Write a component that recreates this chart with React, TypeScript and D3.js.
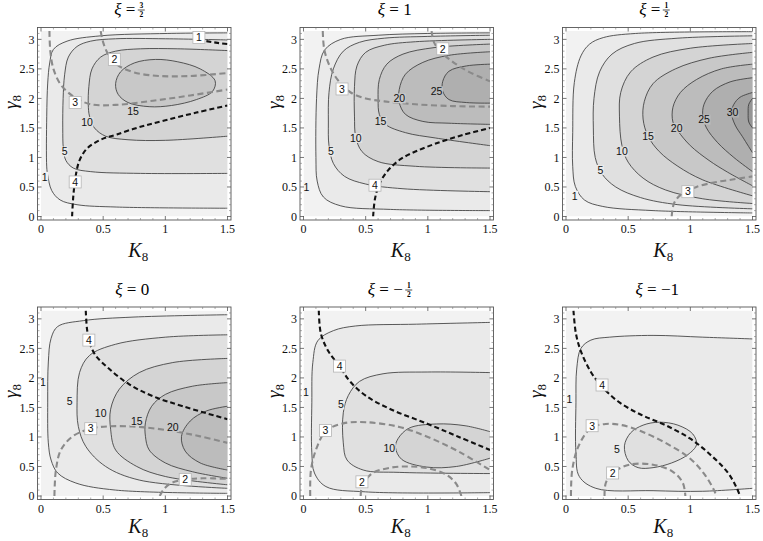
import React from "react";
import * as d3 from "d3";

type Pt = [number, number];
interface Contour { level: number; pts: Pt[]; closed?: boolean }
interface Dashed { tone: "gray" | "black"; label: string; at: Pt; pts: Pt[] }
interface CLabel { text: string; at: Pt }

// ---------- axes ----------
const xTicks = [0, 0.5, 1, 1.5];
const xTickLabels = ["0", "0.5", "1", "1.5"];
const yTicks = [0, 0.5, 1, 1.5, 2, 2.5, 3];
const yTickLabels = ["0", "0.5", "1", "1.5", "2", "2.5", "3"];
const xMinor = [0.1, 0.2, 0.3, 0.4, 0.6, 0.7, 0.8, 0.9, 1.1, 1.2, 1.3, 1.4];
const yMinor = [0.1, 0.2, 0.3, 0.4, 0.6, 0.7, 0.8, 0.9, 1.1, 1.2, 1.3, 1.4, 1.6, 1.7, 1.8, 1.9, 2.1, 2.2, 2.3, 2.4, 2.6, 2.7, 2.8, 2.9, 3.1];

// ---------- shading ----------
const shadeLevels = [1, 5, 10, 15, 20, 25, 30, 35];
const shadeColors = ["#eaeaea", "#e0e0e0", "#d4d4d4", "#c8c8c8", "#bcbcbc", "#afafaf", "#a2a2a2", "#959595"];
const baseShade = "#f2f2f2";

// ---------- titles ----------
const titles = [
  { neg: false, num: "3", den: "2", txt: "" },
  { neg: false, num: "", den: "", txt: "1" },
  { neg: false, num: "1", den: "2", txt: "" },
  { neg: false, num: "", den: "", txt: "0" },
  { neg: true, num: "1", den: "2", txt: "" },
  { neg: true, num: "", den: "", txt: "1" },
];

// ---------- panel 1 : xi = 3/2 ----------
const p1Contours: Contour[] = [
  { level: 1, pts: [[1.5, 3.11], [1.02, 3.1], [0.48, 3.06], [0.21, 2.97], [0.1, 2.83], [0.07, 2.6], [0.054, 2.26], [0.046, 1.69], [0.046, 0.84], [0.054, 0.7], [0.086, 0.44], [0.154, 0.28], [0.29, 0.2], [0.61, 0.16], [1.5, 0.14]] },
  { level: 5, pts: [[1.5, 2.99], [1.0, 3.01], [0.6, 3.01], [0.4, 2.97], [0.29, 2.88], [0.22, 2.7], [0.19, 2.4], [0.178, 2.0], [0.175, 1.5], [0.18, 1.15], [0.2, 0.95], [0.26, 0.82], [0.4, 0.76], [0.8, 0.73], [1.5, 0.73]] },
  { level: 10, pts: [[1.5, 2.81], [1.1, 2.84], [0.8, 2.84], [0.6, 2.8], [0.48, 2.7], [0.41, 2.5], [0.385, 2.2], [0.38, 1.9], [0.39, 1.7], [0.43, 1.5], [0.52, 1.36], [0.7, 1.3], [1.0, 1.29], [1.5, 1.36]] },
  { level: 15, closed: true, pts: [[0.6, 2.25], [0.64, 2.45], [0.75, 2.6], [0.92, 2.66], [1.1, 2.62], [1.28, 2.5], [1.4, 2.3], [1.38, 2.12], [1.25, 1.98], [1.05, 1.88], [0.87, 1.86], [0.7, 1.93], [0.62, 2.07]] },
];
const p1Dashed: Dashed[] = [
  { tone: "gray", label: "3", at: [0.275, 1.93], pts: [[0.068, 3.14], [0.075, 2.8], [0.1, 2.5], [0.16, 2.23], [0.27, 2.02], [0.4, 1.9], [0.6, 1.89], [0.9, 1.96], [1.2, 2.05], [1.5, 2.15]] },
  { tone: "gray", label: "2", at: [0.59, 2.66], pts: [[0.48, 3.14], [0.5, 2.95], [0.54, 2.75], [0.62, 2.56], [0.75, 2.44], [0.95, 2.38], [1.2, 2.38], [1.5, 2.43]] },
  { tone: "black", label: "4", at: [0.275, 0.585], pts: [[0.25, 0], [0.26, 0.35], [0.28, 0.7], [0.31, 0.95], [0.37, 1.15], [0.48, 1.3], [0.61, 1.39], [0.8, 1.52], [1.0, 1.63], [1.25, 1.76], [1.5, 1.88]] },
  { tone: "black", label: "1", at: [1.27, 3.03], pts: [[1.33, 2.97], [1.42, 2.94], [1.5, 2.92]] },
];
const p1Labels: CLabel[] = [
  { text: "1", at: [0.03, 0.67] }, { text: "5", at: [0.19, 1.1] }, { text: "10", at: [0.37, 1.6] }, { text: "15", at: [0.74, 1.78] },
];

// ---------- panel 2 : xi = 1 ----------
const p2Contours: Contour[] = [
  { level: 1, pts: [[1.5, 3.11], [1.0, 3.1], [0.6, 3.07], [0.3, 3.0], [0.17, 2.82], [0.125, 2.5], [0.105, 2.0], [0.1, 1.0], [0.11, 0.6], [0.16, 0.33], [0.3, 0.18], [0.7, 0.12], [1.5, 0.1]] },
  { level: 5, pts: [[1.5, 3.07], [1.0, 3.05], [0.65, 3.02], [0.45, 2.95], [0.32, 2.8], [0.24, 2.5], [0.205, 2.1], [0.2, 1.6], [0.205, 1.2], [0.24, 0.9], [0.33, 0.68], [0.5, 0.55], [0.8, 0.47], [1.5, 0.42]] },
  { level: 10, pts: [[1.5, 3.0], [0.9, 2.96], [0.65, 2.9], [0.5, 2.78], [0.43, 2.55], [0.41, 2.2], [0.41, 1.7], [0.42, 1.35], [0.47, 1.1], [0.6, 0.93], [0.9, 0.85], [1.5, 0.82]] },
  { level: 15, pts: [[1.5, 2.92], [1.05, 2.86], [0.8, 2.75], [0.67, 2.58], [0.61, 2.32], [0.6, 1.98], [0.61, 1.73], [0.66, 1.56], [0.82, 1.42], [1.06, 1.33], [1.5, 1.2]] },
  { level: 20, pts: [[1.5, 2.79], [1.17, 2.73], [0.96, 2.61], [0.82, 2.41], [0.77, 2.15], [0.77, 1.93], [0.82, 1.73], [0.96, 1.61], [1.17, 1.58], [1.5, 1.56]] },
  { level: 25, pts: [[1.5, 2.58], [1.31, 2.55], [1.17, 2.46], [1.12, 2.29], [1.12, 2.12], [1.17, 1.98], [1.31, 1.93], [1.5, 1.92]] },
];
const p2Dashed: Dashed[] = [
  { tone: "gray", label: "3", at: [0.31, 2.16], pts: [[0.155, 3.14], [0.167, 2.83], [0.21, 2.55], [0.28, 2.3], [0.38, 2.1], [0.5, 2.0], [0.65, 1.95], [0.9, 1.9], [1.2, 1.87], [1.5, 1.86]] },
  { tone: "gray", label: "2", at: [1.12, 2.84], pts: [[1.03, 3.14], [1.05, 2.95], [1.1, 2.8], [1.2, 2.62], [1.33, 2.45], [1.5, 2.29]] },
  { tone: "black", label: "4", at: [0.575, 0.53], pts: [[0.56, 0], [0.575, 0.3], [0.61, 0.55], [0.68, 0.78], [0.78, 0.97], [0.9, 1.1], [1.07, 1.24], [1.28, 1.38], [1.5, 1.5]] },
];
const p2Labels: CLabel[] = [
  { text: "1", at: [0.024, 0.5] }, { text: "5", at: [0.22, 1.1] }, { text: "10", at: [0.42, 1.33] },
  { text: "15", at: [0.62, 1.61] }, { text: "20", at: [0.77, 2.0] }, { text: "25", at: [1.07, 2.12] },
];

// ---------- panel 3 : xi = 1/2 ----------
const p3Contours: Contour[] = [
  { level: 1, pts: [[1.5, 3.13], [0.56, 3.1], [0.3, 3.03], [0.19, 2.92], [0.12, 2.72], [0.067, 2.27], [0.054, 1.42], [0.054, 0.85], [0.075, 0.51], [0.148, 0.28], [0.296, 0.17], [0.7, 0.1], [1.5, 0.06]] },
  { level: 5, pts: [[1.5, 3.06], [0.9, 3.02], [0.55, 2.93], [0.37, 2.75], [0.27, 2.45], [0.225, 2.0], [0.22, 1.5], [0.235, 1.0], [0.29, 0.72], [0.4, 0.5], [0.6, 0.32], [0.9, 0.2], [1.5, 0.13]] },
  { level: 10, pts: [[1.5, 2.93], [1.0, 2.85], [0.7, 2.7], [0.52, 2.45], [0.44, 2.1], [0.43, 1.7], [0.45, 1.2], [0.5, 0.92], [0.62, 0.65], [0.8, 0.45], [1.1, 0.3], [1.5, 0.22]] },
  { level: 15, pts: [[1.5, 2.78], [1.15, 2.68], [0.88, 2.5], [0.7, 2.25], [0.63, 1.95], [0.62, 1.65], [0.66, 1.36], [0.75, 1.1], [0.9, 0.85], [1.1, 0.62], [1.5, 0.35]] },
  { level: 20, pts: [[1.5, 2.58], [1.25, 2.5], [1.05, 2.32], [0.92, 2.1], [0.86, 1.85], [0.86, 1.6], [0.9, 1.45], [1.0, 1.2], [1.15, 0.95], [1.3, 0.75], [1.5, 0.52]] },
  { level: 25, pts: [[1.5, 2.35], [1.32, 2.28], [1.18, 2.12], [1.11, 1.9], [1.1, 1.7], [1.13, 1.5], [1.22, 1.25], [1.35, 1.0], [1.5, 0.76]] },
  { level: 30, pts: [[1.5, 2.1], [1.4, 2.02], [1.35, 1.9], [1.33, 1.76], [1.36, 1.55], [1.42, 1.35], [1.5, 1.08]] },
  { level: 35, pts: [[1.5, 2.0], [1.47, 1.9], [1.465, 1.75], [1.47, 1.6], [1.5, 1.5]] },
];
const p3Dashed: Dashed[] = [
  { tone: "gray", label: "3", at: [0.98, 0.42], pts: [[0.85, 0], [0.87, 0.23], [0.93, 0.38], [1.05, 0.5], [1.2, 0.58], [1.35, 0.63], [1.5, 0.68]] },
];
const p3Labels: CLabel[] = [
  { text: "1", at: [0.07, 0.35] }, { text: "5", at: [0.277, 0.79] }, { text: "10", at: [0.45, 1.1] }, { text: "15", at: [0.66, 1.36] },
  { text: "20", at: [0.89, 1.5] }, { text: "25", at: [1.11, 1.64] }, { text: "30", at: [1.34, 1.76] },
];

// ---------- panel 4 : xi = 0 ----------
const p4Contours: Contour[] = [
  { level: 1, pts: [[1.5, 3.07], [0.74, 3.03], [0.34, 2.97], [0.134, 2.87], [0.081, 2.67], [0.059, 2.27], [0.054, 1.59], [0.059, 0.9], [0.081, 0.61], [0.134, 0.39], [0.28, 0.22], [0.6, 0.1], [1.5, 0.045]] },
  { level: 5, pts: [[1.5, 2.73], [1.0, 2.69], [0.6, 2.57], [0.39, 2.38], [0.31, 2.09], [0.29, 1.58], [0.3, 1.18], [0.36, 0.84], [0.52, 0.5], [0.79, 0.27], [1.5, 0.13]] },
  { level: 10, pts: [[1.5, 2.33], [1.06, 2.26], [0.79, 2.09], [0.63, 1.81], [0.56, 1.47], [0.56, 1.13], [0.6, 0.78], [0.77, 0.5], [1.0, 0.33], [1.5, 0.19]] },
  { level: 15, pts: [[1.5, 1.92], [1.22, 1.86], [1.0, 1.72], [0.89, 1.52], [0.84, 1.24], [0.84, 1.01], [0.87, 0.78], [1.0, 0.56], [1.22, 0.41], [1.5, 0.3]] },
  { level: 20, pts: [[1.5, 1.52], [1.33, 1.44], [1.2, 1.27], [1.13, 1.01], [1.16, 0.76], [1.28, 0.56], [1.5, 0.44]] },
];
const p4Dashed: Dashed[] = [
  { tone: "gray", label: "3", at: [0.4, 1.14], pts: [[0.108, 0], [0.12, 0.44], [0.16, 0.78], [0.255, 1.01], [0.4, 1.14], [0.55, 1.18], [0.79, 1.17], [1.06, 1.1], [1.28, 1.01], [1.5, 0.9]] },
  { tone: "gray", label: "2", at: [1.16, 0.28], pts: [[0.955, 0], [0.99, 0.12], [1.05, 0.22], [1.16, 0.28], [1.3, 0.3], [1.5, 0.29]] },
  { tone: "black", label: "4", at: [0.385, 2.64], pts: [[0.36, 3.14], [0.37, 2.83], [0.39, 2.6], [0.44, 2.38], [0.55, 2.15], [0.71, 1.89], [0.9, 1.69], [1.14, 1.52], [1.5, 1.3]] },
];
const p4Labels: CLabel[] = [
  { text: "1", at: [0.015, 1.92] }, { text: "5", at: [0.23, 1.61] }, { text: "10", at: [0.48, 1.41] },
  { text: "15", at: [0.77, 1.27] }, { text: "20", at: [1.06, 1.17] },
];

// ---------- panel 5 : xi = -1/2 ----------
const p5Contours: Contour[] = [
  { level: 1, pts: [[1.5, 2.94], [0.91, 2.91], [0.42, 2.88], [0.24, 2.8], [0.115, 2.63], [0.075, 2.26], [0.067, 1.58], [0.067, 0.73], [0.088, 0.39], [0.18, 0.16], [0.5, 0.07], [1.5, 0.057]] },
  { level: 5, pts: [[1.5, 2.09], [1.0, 2.1], [0.64, 2.07], [0.45, 1.94], [0.36, 1.7], [0.32, 1.41], [0.32, 0.9], [0.35, 0.61], [0.48, 0.44], [0.77, 0.4], [1.5, 0.38]] },
  { level: 10, pts: [[1.5, 1.09], [1.3, 1.19], [1.07, 1.22], [0.85, 1.15], [0.76, 0.97], [0.74, 0.82], [0.79, 0.62], [0.99, 0.49], [1.23, 0.5], [1.5, 0.64]] },
];
const p5Dashed: Dashed[] = [
  { tone: "black", label: "4", at: [0.29, 2.2], pts: [[0.123, 3.14], [0.14, 2.75], [0.2, 2.45], [0.29, 2.2], [0.37, 1.95], [0.5, 1.7], [0.7, 1.47], [1.0, 1.22], [1.25, 1.0], [1.5, 0.78]] },
  { tone: "gray", label: "3", at: [0.177, 1.11], pts: [[0.054, 0], [0.06, 0.44], [0.1, 0.78], [0.18, 1.1], [0.32, 1.23], [0.5, 1.25], [0.77, 1.17], [1.0, 1.0], [1.25, 0.75], [1.5, 0.44]] },
  { tone: "gray", label: "2", at: [0.47, 0.24], pts: [[0.46, 0], [0.47, 0.15], [0.55, 0.38], [0.7, 0.48], [0.85, 0.5], [1.0, 0.47], [1.15, 0.36], [1.23, 0.2], [1.27, 0]] },
];
const p5Labels: CLabel[] = [
  { text: "1", at: [0.02, 1.75] }, { text: "5", at: [0.3, 1.55] }, { text: "10", at: [0.69, 0.81] },
];

// ---------- panel 6 : xi = -1 ----------
const p6Contours: Contour[] = [
  { level: 1, pts: [[1.5, 2.66], [1.1, 2.69], [0.7, 2.72], [0.35, 2.69], [0.2, 2.64], [0.12, 2.5], [0.086, 2.15], [0.08, 1.58], [0.08, 0.73], [0.107, 0.33], [0.24, 0.13], [0.7, 0.09], [1.1, 0.08], [1.5, 0.13]] },
  { level: 5, closed: true, pts: [[0.47, 0.85], [0.52, 1.07], [0.62, 1.2], [0.75, 1.25], [0.9, 1.2], [1.02, 1.05], [1.05, 0.87], [0.98, 0.7], [0.85, 0.56], [0.7, 0.48], [0.58, 0.48], [0.5, 0.6]] },
];
const p6Dashed: Dashed[] = [
  { tone: "black", label: "4", at: [0.29, 1.88], pts: [[0.06, 3.14], [0.08, 2.75], [0.12, 2.45], [0.2, 2.1], [0.29, 1.85], [0.42, 1.6], [0.6, 1.38], [0.8, 1.2], [1.0, 0.97], [1.15, 0.72], [1.3, 0.4], [1.37, 0.15], [1.4, 0]] },
  { tone: "gray", label: "3", at: [0.21, 1.19], pts: [[0.04, 0], [0.05, 0.44], [0.1, 0.84], [0.2, 1.15], [0.32, 1.22], [0.45, 1.2], [0.6, 1.1], [0.8, 0.9], [1.0, 0.63], [1.12, 0.35], [1.19, 0.1], [1.21, 0]] },
  { tone: "gray", label: "2", at: [0.375, 0.39], pts: [[0.31, 0], [0.32, 0.22], [0.375, 0.39], [0.51, 0.53], [0.7, 0.53], [0.86, 0.41], [0.94, 0.22], [0.96, 0]] },
];
const p6Labels: CLabel[] = [
  { text: "1", at: [0.027, 1.64] }, { text: "5", at: [0.41, 0.8] },
];

const panelContours = [p1Contours, p2Contours, p3Contours, p4Contours, p5Contours, p6Contours];
const panelDashed = [p1Dashed, p2Dashed, p3Dashed, p4Dashed, p5Dashed, p6Dashed];
const panelLabels = [p1Labels, p2Labels, p3Labels, p4Labels, p5Labels, p6Labels];

// ---------- layout ----------
const PANEL_LEFT = [41, 303.5, 566];
const PANEL_TOP = [31, 310.5];
const PW = 186.5;
const PH = 185.5;
const PAD = 3.5;
const TITLE_BASE = [15, 295];
const KLABEL_OFF = [37, 33];
const GLABEL_Y = [102, 391];

const SERIF = "'Liberation Serif', 'Times New Roman', Times, serif";
const SANS = "'Liberation Sans', Arial, Helvetica, sans-serif";

function shadeFor(level: number) {
  return shadeColors[shadeLevels.indexOf(level)];
}
function shadeBelow(level: number) {
  const i = shadeLevels.indexOf(level);
  return i > 0 ? shadeColors[i - 1] : baseShade;
}

function Title({ cx, baseline, t }: { cx: number; baseline: number; t: (typeof titles)[number] }) {
  const frac = t.num !== "";
  if (!frac) {
    return (
      <text x={cx} y={baseline} fontSize={17} textAnchor="middle" fontFamily={SERIF} fill="#000">
        <tspan fontStyle="italic">ξ</tspan>
        <tspan>{" = "}</tspan>
        {t.neg ? <tspan>−</tspan> : null}
        <tspan>{t.txt}</tspan>
      </text>
    );
  }
  const split = cx + (t.neg ? 8 : 3);
  const fc = split + 6;
  return (
    <g fontFamily={SERIF} fill="#000">
      <text x={split} y={baseline} fontSize={17} textAnchor="end">
        <tspan fontStyle="italic">ξ</tspan>
        <tspan>{" = "}</tspan>
        {t.neg ? <tspan>−</tspan> : null}
      </text>
      <text x={fc} y={baseline - 6.8} fontSize={7.5} fontWeight="bold" textAnchor="middle">{t.num}</text>
      <line x1={fc - 3.5} x2={fc + 3.5} y1={baseline - 5} y2={baseline - 5} stroke="#000" strokeWidth={0.7} />
      <text x={fc} y={baseline + 2.2} fontSize={7.5} fontWeight="bold" textAnchor="middle">{t.den}</text>
    </g>
  );
}

function Panel({ i }: { i: number }) {
  const col = i % 3;
  const row = Math.floor(i / 3);
  const left = PANEL_LEFT[col];
  const top = PANEL_TOP[row];
  const x = d3.scaleLinear().domain([0, 1.5]).range([left, left + PW]);
  const y = d3.scaleLinear().domain([0, Math.PI]).range([top + PH, top]);
  const open = d3.line<Pt>().x((d) => x(d[0])).y((d) => y(d[1])).curve(d3.curveCatmullRom.alpha(0.5));
  const closed = d3.line<Pt>().x((d) => x(d[0])).y((d) => y(d[1])).curve(d3.curveCatmullRomClosed.alpha(0.5));
  const contours = [...panelContours[i]].sort((a, b) => a.level - b.level);
  const dashed = panelDashed[i];
  const labels = panelLabels[i];
  const fx0 = x(0) - PAD, fx1 = x(1.5) + PAD, fy0 = y(Math.PI) - PAD, fy1 = y(0) + PAD;
  const clipId = `plotclip${i}`;
  const pathFor = (c: Contour) => (c.closed ? closed(c.pts) : open(c.pts)) as string;
  const cx = (fx0 + fx1) / 2;

  return (
    <g>
      <defs>
        <clipPath id={clipId}>
          <rect x={x(0)} y={y(Math.PI)} width={x(1.5) - x(0)} height={y(0) - y(Math.PI)} />
        </clipPath>
      </defs>
      <g clipPath={`url(#${clipId})`}>
        <rect x={x(0)} y={y(Math.PI)} width={x(1.5) - x(0)} height={y(0) - y(Math.PI)} fill={baseShade} />
        {contours.map((c, k) => (
          <path key={"f" + k} d={pathFor(c) + (c.closed ? "" : "Z")} fill={shadeFor(c.level)} stroke="none" />
        ))}
        {contours.map((c, k) => (
          <path key={"l" + k} d={pathFor(c)} fill="none" stroke="#3c3c3c" strokeWidth={0.85} />
        ))}
        {dashed.map((d, k) => (
          <path
            key={"d" + k}
            d={open(d.pts) as string}
            fill="none"
            stroke={d.tone === "gray" ? "#8a8a8a" : "#111"}
            strokeWidth={2.1}
            strokeDasharray={d.tone === "gray" ? "6 3.5" : "5 3"}
          />
        ))}
        {labels.map((l, k) => {
          const lvl = parseInt(l.text, 10);
          const w = l.text.length * 6 + 1;
          return (
            <g key={"cl" + k}>
              <rect x={x(l.at[0]) - w / 2} y={y(l.at[1]) - 5} width={w} height={10} fill={shadeBelow(lvl)} />
              <text x={x(l.at[0])} y={y(l.at[1])} dy="0.36em" textAnchor="middle" fontFamily={SANS} fontSize={10.5} fill="#111">
                {l.text}
              </text>
            </g>
          );
        })}
      </g>
      {dashed.map((d, k) => (
        <g key={"dl" + k}>
          <rect x={x(d.at[0]) - 6} y={y(d.at[1]) - 6} width={12} height={12} fill="#fff" stroke="#b5b5b5" strokeWidth={0.8} />
          <text x={x(d.at[0])} y={y(d.at[1])} dy="0.36em" textAnchor="middle" fontFamily={SANS} fontSize={10.5} fill="#111">
            {d.label}
          </text>
        </g>
      ))}
      {/* frame */}
      <rect x={fx0} y={fy0} width={fx1 - fx0} height={fy1 - fy0} fill="none" stroke="#555" strokeWidth={0.9} />
      {xTicks.map((t) => (
        <g key={"xt" + t}>
          <line x1={x(t)} x2={x(t)} y1={fy1} y2={fy1 - 4} stroke="#555" strokeWidth={0.8} />
          <line x1={x(t)} x2={x(t)} y1={fy0} y2={fy0 + 4} stroke="#555" strokeWidth={0.8} />
        </g>
      ))}
      {xMinor.map((t) => (
        <g key={"xm" + t}>
          <line x1={x(t)} x2={x(t)} y1={fy1} y2={fy1 - 2} stroke="#777" strokeWidth={0.6} />
          <line x1={x(t)} x2={x(t)} y1={fy0} y2={fy0 + 2} stroke="#777" strokeWidth={0.6} />
        </g>
      ))}
      {yTicks.map((t) => (
        <g key={"yt" + t}>
          <line x1={fx0} x2={fx0 + 4} y1={y(t)} y2={y(t)} stroke="#555" strokeWidth={0.8} />
          <line x1={fx1} x2={fx1 - 4} y1={y(t)} y2={y(t)} stroke="#555" strokeWidth={0.8} />
        </g>
      ))}
      {yMinor.map((t) => (
        <g key={"ym" + t}>
          <line x1={fx0} x2={fx0 + 2} y1={y(t)} y2={y(t)} stroke="#777" strokeWidth={0.6} />
          <line x1={fx1} x2={fx1 - 2} y1={y(t)} y2={y(t)} stroke="#777" strokeWidth={0.6} />
        </g>
      ))}
      {xTicks.map((t, k) => (
        <text key={"xl" + t} x={x(t)} y={fy1 + 13} textAnchor="middle" fontFamily={SERIF} fontSize={12} fill="#111">
          {xTickLabels[k]}
        </text>
      ))}
      {yTicks.map((t, k) => (
        <text key={"yl" + t} x={fx0 - 3} y={y(t)} dy="0.35em" textAnchor="end" fontFamily={SERIF} fontSize={12} fill="#111">
          {yTickLabels[k]}
        </text>
      ))}
      {/* axis labels */}
      <text x={cx + 4} y={fy1 + KLABEL_OFF[row]} textAnchor="middle" fontFamily={SERIF} fontSize={20} fill="#111">
        <tspan fontStyle="italic">K</tspan>
        <tspan fontSize={13} dy={4}>8</tspan>
      </text>
      <text
        transform={`translate(${x(0) - 24},${GLABEL_Y[row]}) rotate(-90)`}
        textAnchor="middle"
        fontFamily={SERIF}
        fontSize={19}
        fill="#111"
      >
        <tspan fontStyle="italic">γ</tspan>
        <tspan fontSize={13} dy={4}>8</tspan>
      </text>
      <Title cx={cx - 2} baseline={TITLE_BASE[row]} t={titles[i]} />
    </g>
  );
}

export default function App() {
  return (
    <svg width={763} height={541} viewBox="0 0 763 541" style={{ display: "block", position: "absolute", left: 0, top: 0, background: "#fff" }}>
      <rect x={0} y={0} width={763} height={541} fill="#fff" />
      {[0, 1, 2, 3, 4, 5].map((i) => (
        <Panel key={i} i={i} />
      ))}
    </svg>
  );
}
